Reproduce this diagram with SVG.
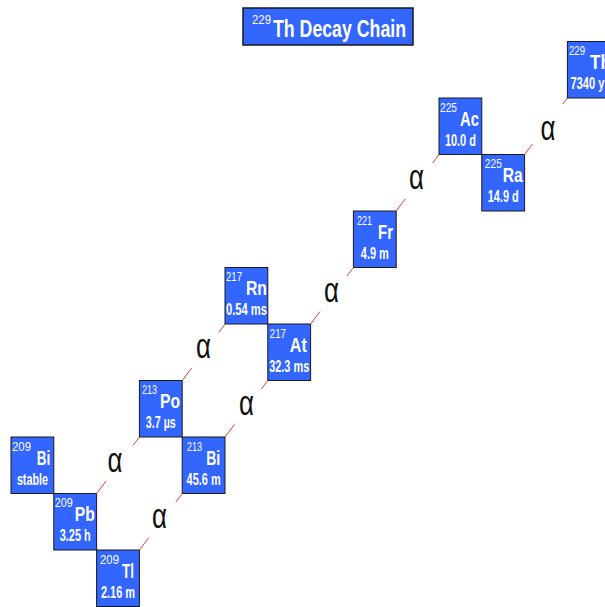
<svg xmlns="http://www.w3.org/2000/svg" width="605" height="607" viewBox="0 0 605 607">
<style>
text{font-family:"Liberation Sans",Arial,sans-serif;fill:#fff}
.box{fill:#3366ff;stroke:#1a1a1a;stroke-width:1}
.sup{font-size:13px}
.sym{font-size:21px;font-weight:bold}
.hl{font-size:16px;font-weight:bold}
.ttl{font-size:23px;font-weight:bold}
.con line{stroke:#ee3a3a;stroke-width:1}
.a{font-size:35px;fill:#111}
</style>
<rect width="605" height="607" fill="#fff"/>
<g id="title">
<rect x="243" y="8" width="170" height="37" fill="#3366ff" stroke="#1a1a1a" stroke-width="1.5"/>
<text class="sup" x="252" y="23.5" textLength="19" lengthAdjust="spacingAndGlyphs">229</text>
<text class="ttl" x="273" y="37" textLength="133" lengthAdjust="spacingAndGlyphs">Th Decay Chain</text>
</g>
<g id="nodes">
<g id="th229" transform="translate(567.4,41.5)">
<rect class="box" width="42.8" height="56.5"/>
<text class="sup" x="1.6" y="13.5" textLength="16" lengthAdjust="spacingAndGlyphs">229</text>
<text class="sym" x="22.6" y="27.5" textLength="21" lengthAdjust="spacingAndGlyphs">Th</text>
<text class="hl" x="3" y="47.5" textLength="34" lengthAdjust="spacingAndGlyphs">7340 y</text>
</g>
<g id="ac225" transform="translate(439,98)">
<rect class="box" width="42.8" height="56.5"/>
<text class="sup" x="1" y="13.5" textLength="17" lengthAdjust="spacingAndGlyphs">225</text>
<text class="sym" x="21" y="27.5" textLength="19" lengthAdjust="spacingAndGlyphs">Ac</text>
<text class="hl" x="5.9" y="47.5" textLength="31" lengthAdjust="spacingAndGlyphs">10.0 d</text>
</g>
<g id="ra225" transform="translate(481.8,154.5)">
<rect class="box" width="42.8" height="56.5"/>
<text class="sup" x="3" y="13.5" textLength="17" lengthAdjust="spacingAndGlyphs">225</text>
<text class="sym" x="21" y="27.5" textLength="20" lengthAdjust="spacingAndGlyphs">Ra</text>
<text class="hl" x="5.9" y="47.5" textLength="31" lengthAdjust="spacingAndGlyphs">14.9 d</text>
</g>
<g id="fr221" transform="translate(353.4,211)">
<rect class="box" width="42.8" height="56.5"/>
<text class="sup" x="3.6" y="13.5" textLength="15" lengthAdjust="spacingAndGlyphs">221</text>
<text class="sym" x="24.6" y="27.5" textLength="15" lengthAdjust="spacingAndGlyphs">Fr</text>
<text class="hl" x="7.4" y="47.5" textLength="28" lengthAdjust="spacingAndGlyphs">4.9 m</text>
</g>
<g id="rn217" transform="translate(225,267.5)">
<rect class="box" width="42.8" height="56.5"/>
<text class="sup" x="1" y="13.5" textLength="16" lengthAdjust="spacingAndGlyphs">217</text>
<text class="sym" x="21" y="27.5" textLength="21" lengthAdjust="spacingAndGlyphs">Rn</text>
<text class="hl" x="1" y="47.5" textLength="41" lengthAdjust="spacingAndGlyphs">0.54 ms</text>
</g>
<g id="at217" transform="translate(267.8,324)">
<rect class="box" width="42.8" height="56.5"/>
<text class="sup" x="2" y="13.5" textLength="16" lengthAdjust="spacingAndGlyphs">217</text>
<text class="sym" x="22" y="27.5" textLength="17" lengthAdjust="spacingAndGlyphs">At</text>
<text class="hl" x="1.4" y="47.5" textLength="40" lengthAdjust="spacingAndGlyphs">32.3 ms</text>
</g>
<g id="po213" transform="translate(139.4,380.5)">
<rect class="box" width="42.8" height="56.5"/>
<text class="sup" x="2.6" y="13.5" textLength="15" lengthAdjust="spacingAndGlyphs">213</text>
<text class="sym" x="20.6" y="27.5" textLength="20" lengthAdjust="spacingAndGlyphs">Po</text>
<text class="hl" x="6.4" y="47.5" textLength="30" lengthAdjust="spacingAndGlyphs">3.7 µs</text>
</g>
<g id="bi213" transform="translate(182.2,437)">
<rect class="box" width="42.8" height="56.5"/>
<text class="sup" x="4.8" y="13.5" textLength="15" lengthAdjust="spacingAndGlyphs">213</text>
<text class="sym" x="24" y="27.5" textLength="14" lengthAdjust="spacingAndGlyphs">Bi</text>
<text class="hl" x="4.4" y="47.5" textLength="34" lengthAdjust="spacingAndGlyphs">45.6 m</text>
</g>
<g id="bi209" transform="translate(11,437)">
<rect class="box" width="42.8" height="56.5"/>
<text class="sup" x="1" y="13.5" textLength="19" lengthAdjust="spacingAndGlyphs">209</text>
<text class="sym" x="25.7" y="27.5" textLength="13.5" lengthAdjust="spacingAndGlyphs">Bi</text>
<text class="hl" x="5.9" y="47.5" textLength="31" lengthAdjust="spacingAndGlyphs">stable</text>
</g>
<g id="pb209" transform="translate(53.8,493.5)">
<rect class="box" width="42.8" height="56.5"/>
<text class="sup" x="1" y="13.5" textLength="18" lengthAdjust="spacingAndGlyphs">209</text>
<text class="sym" x="21" y="27.5" textLength="20" lengthAdjust="spacingAndGlyphs">Pb</text>
<text class="hl" x="5.9" y="47.5" textLength="31" lengthAdjust="spacingAndGlyphs">3.25 h</text>
</g>
<g id="tl209" transform="translate(96.6,550)">
<rect class="box" width="42.8" height="56.5"/>
<text class="sup" x="3.4" y="13.5" textLength="19" lengthAdjust="spacingAndGlyphs">209</text>
<text class="sym" x="25.4" y="27.5" textLength="12" lengthAdjust="spacingAndGlyphs">Tl</text>
<text class="hl" x="4.4" y="47.5" textLength="34" lengthAdjust="spacingAndGlyphs">2.16 m</text>
</g>
</g>
<g id="connectors" class="con">
<line x1="524.6" y1="154.5" x2="532.7" y2="143.8"/><line x1="562.7" y1="104.2" x2="567.4" y2="98"/>
<line x1="396.2" y1="211" x2="405.6" y2="198.6"/><line x1="432.6" y1="163" x2="439" y2="154.5"/>
<line x1="310.6" y1="324" x2="320" y2="311.6"/><line x1="347" y1="276" x2="353.4" y2="267.5"/>
<line x1="225" y1="437" x2="234.4" y2="424.6"/><line x1="261.4" y1="389" x2="267.8" y2="380.5"/>
<line x1="182.2" y1="380.5" x2="191.6" y2="368.1"/><line x1="218.6" y1="332.5" x2="225" y2="324"/>
<line x1="139.4" y1="550" x2="148.8" y2="537.6"/><line x1="175.8" y1="502" x2="182.2" y2="493.5"/>
<line x1="96.6" y1="493.5" x2="106" y2="481.1"/><line x1="133" y1="445.5" x2="139.4" y2="437"/>
</g>
<g id="labels">
<text class="a" x="540.5" y="140" textLength="15" lengthAdjust="spacingAndGlyphs">α</text>
<text class="a" x="409" y="189" textLength="15" lengthAdjust="spacingAndGlyphs">α</text>
<text class="a" x="324" y="302" textLength="15" lengthAdjust="spacingAndGlyphs">α</text>
<text class="a" x="196" y="358" textLength="15" lengthAdjust="spacingAndGlyphs">α</text>
<text class="a" x="239" y="415" textLength="15" lengthAdjust="spacingAndGlyphs">α</text>
<text class="a" x="107.5" y="472" textLength="15" lengthAdjust="spacingAndGlyphs">α</text>
<text class="a" x="152" y="528" textLength="15" lengthAdjust="spacingAndGlyphs">α</text>
</g>
</svg>
